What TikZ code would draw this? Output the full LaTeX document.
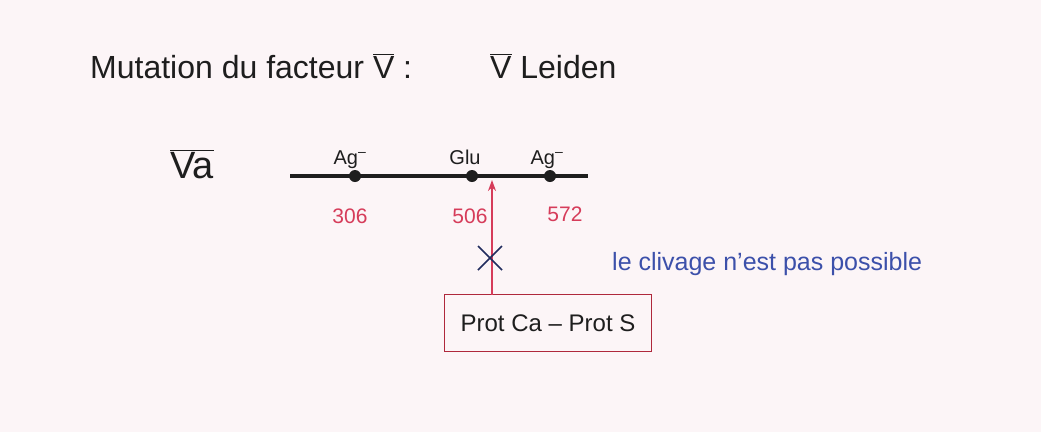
\documentclass[tikz,border=0pt]{standalone}
\usepackage{fontspec}
\setmainfont{Liberation Sans}
\usetikzlibrary{arrows.meta,calc}
\definecolor{bgpink}{RGB}{252,245,247}
\definecolor{penred}{RGB}{214,60,90}
\definecolor{boxred}{RGB}{175,40,60}
\definecolor{penblue}{RGB}{60,80,170}
\definecolor{penblack}{RGB}{30,30,30}
\tikzset{
  hand/.style={text=penblack, inner sep=0pt},
  num/.style={text=penred, inner sep=0pt, font=\fontsize{21}{24}\selectfont},
  aa/.style={text=penblack, inner sep=0pt, font=\fontsize{20}{24}\selectfont},
  site/.style={circle, fill=penblack, minimum size=12pt, inner sep=0pt},
  chain/.style={draw=penblack, line width=3.4pt},
  cut/.style={draw=penred, line width=1.8pt},
  cross/.style={draw=penblue!55!black, line width=1.6pt},
  complexbox/.style={draw=boxred, line width=1.6pt, minimum width=207pt, minimum height=57pt, inner sep=0pt, text=penblack, font=\fontsize{24}{28}\selectfont},
}
\begin{document}
\begin{tikzpicture}[x=1pt, y=-1pt]
\fill[bgpink] (0,0) rectangle (1041,432);
\useasboundingbox (0,0) rectangle (1041,432);
% title
\node[hand, anchor=base west, font=\fontsize{32}{36}\selectfont] (title) at (90,78) {Mutation du facteur $\overline{\mbox{V}}$ :};
\node[hand, anchor=base west, font=\fontsize{32}{36}\selectfont] (leiden) at (490,78) {$\overline{\mbox{V}}$ Leiden};
% Va
\node[hand, anchor=base west, font=\fontsize{38}{42}\selectfont] (va) at (170,178) {$\overline{\mbox{Va}}$};
% chain
\coordinate (c1) at (290,176);
\coordinate (c2) at (588,176);
\draw[chain] (c1) -- (c2);
\node[site] (s306) at (355,176) {};
\node[site] (s506) at (472,176) {};
\node[site] (s572) at (550,176) {};
% aa labels
\node[aa, anchor=base] (a1) at (350,164) {Ag\textsuperscript{--}};
\node[aa, anchor=base] (a2) at (465,164) {Glu};
\node[aa, anchor=base] (a3) at (547,164) {Ag\textsuperscript{--}};
% numbers
\node[num, anchor=base] (n1) at (350,223) {306};
\node[num, anchor=base] (n2) at (470,223) {506};
\node[num, anchor=base] (n3) at (565,221) {572};
% box
\node[complexbox] (box) at (548,323) {Prot Ca -- Prot S};
\coordinate (tip) at (492,180);
\coordinate (boxtop) at (492,295);
\draw[cut, -{Stealth[length=11pt,width=8pt]}] (boxtop) -- (tip);
% cross
\coordinate (x0) at (490,258);
\draw[cross] ($(x0)+(-12,-12)$) -- ($(x0)+(12,12)$);
\draw[cross] ($(x0)+(12,-12)$) -- ($(x0)+(-12,12)$);
% note
\node[anchor=base west, inner sep=0pt, text=penblue, font=\fontsize{25}{28}\selectfont] (note) at (612,270) {le clivage n'est pas possible};
\end{tikzpicture}
\end{document}
